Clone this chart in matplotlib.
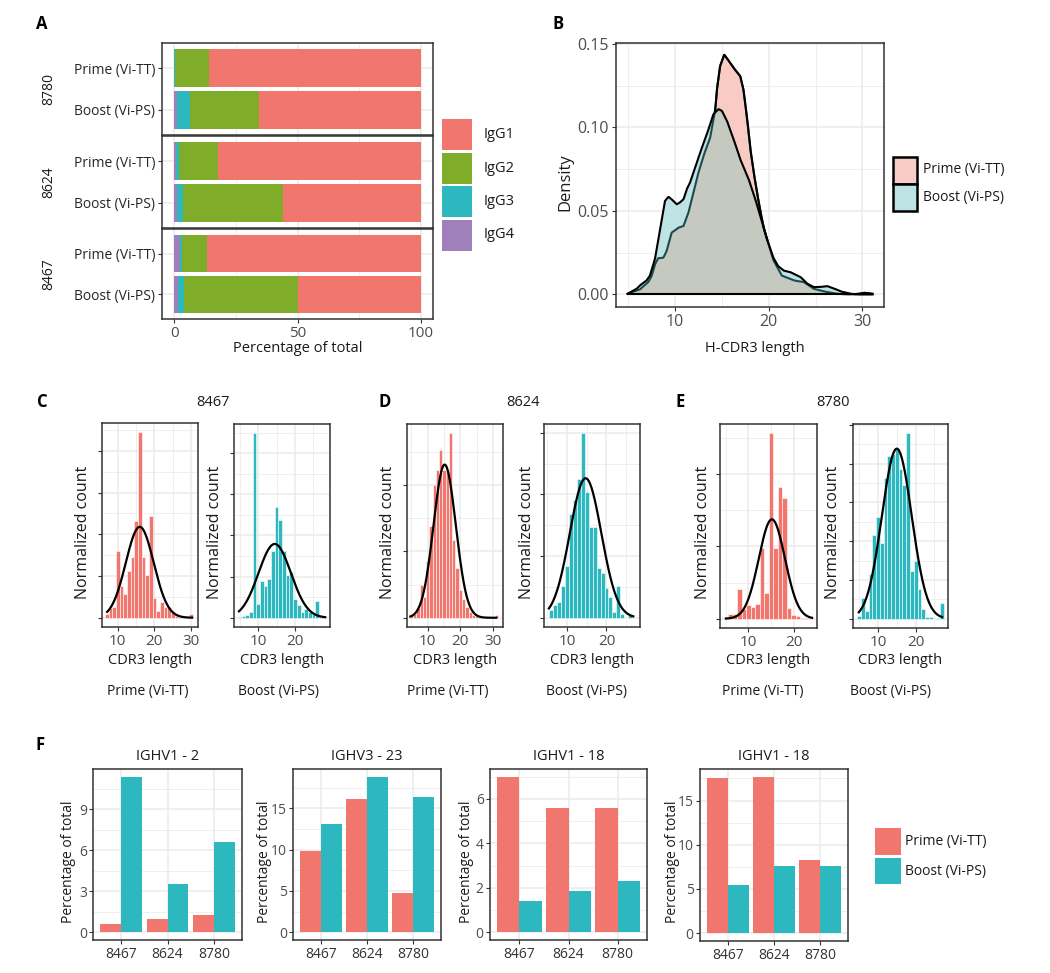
import numpy as np
import matplotlib
matplotlib.use('Agg')
import matplotlib.pyplot as plt
from matplotlib.patches import Rectangle
from matplotlib.ticker import FixedLocator, MultipleLocator

plt.rcParams['font.family'] = ['Open Sans', 'DejaVu Sans']
NARROW = ['Liberation Sans Narrow', 'Open Sans', 'DejaVu Sans']

# ------------------------------------------------------------------ data
# Panel A: isotype composition (% of total), order: 8780 P/B, 8624 P/B, 8467 P/B
a_donors = ['8780', '8624', '8467']
a_times = ['Prime (Vi-TT)', 'Boost (Vi-PS)']
a_isotypes = ['IgG1', 'IgG2', 'IgG3', 'IgG4']
a_IgG1 = [86.1, 65.8, 82.1, 55.7, 86.8, 49.9]
a_IgG2 = [13.6, 28.0, 15.9, 40.7, 10.2, 46.3]
a_IgG3 = [0.3, 5.2, 1.5, 2.5, 0.8, 2.3]
a_IgG4 = [0.0, 1.0, 0.5, 1.1, 2.2, 1.5]

# Panel B: density curves of H-CDR3 length
b_prime_x = [4.93, 6.25, 7.14, 7.5, 7.86, 8.2, 8.75, 9.1, 9.64, 10.36, 10.9, 11.43, 11.96,
             12.5, 13.04, 13.75, 14.3, 14.47, 14.8, 15.25, 15.6, 16.25, 16.96, 17.3, 17.7,
             18.04, 18.4, 18.75, 19.1, 19.46, 19.82, 20.5, 21.4, 22.7, 23.75, 24.8, 25.9,
             27.3, 28.5, 29.5, 30.2, 31.07]
b_prime_y = [0.0004, 0.003, 0.0074, 0.011, 0.018, 0.0217, 0.022, 0.026, 0.037, 0.040, 0.041,
             0.049, 0.061, 0.073, 0.083, 0.094, 0.111, 0.1227, 0.1366, 0.1436, 0.141, 0.1357,
             0.1307, 0.1227, 0.105, 0.087, 0.073, 0.061, 0.050, 0.040, 0.033, 0.0205, 0.0113,
             0.0084, 0.0074, 0.0034, 0.0018, 0.0004, 0.0, 0.0003, 0.001, 0.0004]
b_boost_x = [4.93, 5.9, 6.25, 6.96, 7.32, 7.86, 8.4, 8.93, 9.3, 9.64, 10.18, 10.5, 10.9,
             11.25, 11.6, 11.96, 12.68, 13.4, 14.1, 14.64, 15.0, 15.54, 16.25, 16.96, 17.86,
             18.57, 19.3, 19.82, 20.5, 21.0, 21.6, 22.3, 23.4, 24.1, 24.8, 25.5, 26.25, 27.0,
             27.7, 28.75, 29.5, 31.07]
b_boost_y = [0.0004, 0.0034, 0.0054, 0.0084, 0.0113, 0.0213, 0.039, 0.056, 0.0585, 0.057,
             0.054, 0.055, 0.057, 0.063, 0.067, 0.073, 0.085, 0.096, 0.108, 0.111, 0.110,
             0.104, 0.093, 0.081, 0.069, 0.057, 0.043, 0.033, 0.022, 0.017, 0.0143, 0.0134,
             0.0104, 0.0065, 0.0044, 0.0045, 0.005, 0.0035, 0.0018, 0.0004, 0.0, 0.0]

# Panels C-E: normalized CDR3 length histograms (bin centre = length)
c_prime_x = list(range(7, 31))
c_prime_h = [0.02, 0.05, 0.056, 0.36, 0.17, 0.13, 0.25, 0.33, 0.52, 1.0, 0.33, 0.23, 0.55,
             0.105, 0.036, 0.086, 0.06, 0.06, 0.032, 0.01, 0.005, 0.0, 0.0, 0.02]
c_boost_x = list(range(5, 28))
c_boost_h = [0.004, 0.007, 0.015, 0.032, 1.0, 0.077, 0.2, 0.17, 0.21, 0.36, 0.6, 0.53, 0.36,
             0.23, 0.25, 0.1, 0.07, 0.03, 0.05, 0.03, 0.02, 0.09, 0.004]
d_prime_x = list(range(5, 32))
d_prime_h = [0.013, 0.02, 0.055, 0.18, 0.11, 0.31, 0.5, 0.72, 0.8, 0.91, 0.8, 0.8, 1.0, 0.42,
             0.27, 0.15, 0.1, 0.058, 0.03, 0.015, 0.01, 0.005, 0.0, 0.0, 0.0, 0.0, 0.015]
d_boost_x = list(range(6, 27))
d_boost_h = [0.04, 0.067, 0.085, 0.17, 0.28, 0.56, 0.64, 0.75, 1.0, 0.68, 0.49, 0.49, 0.27,
             0.24, 0.16, 0.11, 0.03, 0.17, 0.02, 0.0, 0.015]
e_prime_x = list(range(5, 25))
e_prime_h = [0.005, 0.027, 0.023, 0.16, 0.05, 0.072, 0.065, 0.077, 0.38, 0.14, 1.0, 0.38,
             0.71, 0.65, 0.06, 0.02, 0.014, 0.005, 0.004, 0.004]
e_boost_x = list(range(5, 28))
e_boost_h = [0.014, 0.11, 0.04, 0.24, 0.45, 0.55, 0.41, 0.76, 0.88, 0.89, 0.92, 0.81, 0.72,
             1.0, 0.26, 0.31, 0.16, 0.054, 0.01, 0.01, 0.0, 0.005, 0.083]
# fitted normal curves: mean, sd, peak, x-from, x-to
c_prime_fit = [16.0, 3.8, 0.49, 7.1, 30.3]
c_boost_fit = [14.5, 4.4, 0.40, 4.8, 28.2]
d_prime_fit = [15.2, 3.4, 0.83, 4.7, 31.0]
d_boost_fit = [14.7, 4.0, 0.756, 5.4, 26.8]
e_prime_fit = [15.2, 2.9, 0.536, 5.0, 24.1]
e_boost_fit = [15.0, 3.95, 0.917, 4.9, 27.0]
hist_titles = ['8467', '8624', '8780']

# Panel F: IGHV usage (% of total)
f_donors = ['8467', '8624', '8780']
f_genes = ['IGHV1 - 2', 'IGHV3 - 23', 'IGHV1 - 18', 'IGHV1 - 18']
f1_prime = [0.58, 0.94, 1.24]
f1_boost = [11.39, 3.51, 6.63]
f2_prime = [9.79, 16.1, 4.79]
f2_boost = [13.05, 18.8, 16.3]
f3_prime = [7.0, 5.58, 5.6]
f3_boost = [1.41, 1.875, 2.31]
f4_prime = [17.53, 17.68, 8.25]
f4_boost = [5.43, 7.61, 7.61]
f_yticks = [[0, 3, 6, 9], [0, 5, 10, 15], [0, 2, 4, 6], [0, 5, 10, 15]]

# ------------------------------------------------------------------ style
RED = '#F0766E'
TEAL = '#2DB7BE'
GREEN = '#7FAC29'
PURPLE = '#9F80BA'
GRID = '#EBEBEB'
TICKC = '#4D4D4D'

W, H = 1050, 973
fig = plt.figure(figsize=(W / 100, H / 100), dpi=100)


def add_ax(l, t, r, b):
    return fig.add_axes([l / W, 1 - b / H, (r - l) / W, (b - t) / H])


def ftext(x, y, s, **kw):
    kw.setdefault('ha', 'center')
    kw.setdefault('va', 'center')
    kw.setdefault('color', '#1A1A1A')
    fig.text(x / W, 1 - y / H, s, **kw)


def frect(l, t, r, b, fc, ec='none', lw=0):
    fig.add_artist(Rectangle((l / W, 1 - b / H), (r - l) / W, (b - t) / H,
                             transform=fig.transFigure, facecolor=fc, edgecolor=ec, lw=lw))


def style(ax, ts=9.5):
    ax.set_facecolor('white')
    for s in ax.spines.values():
        s.set_color('#333333')
        s.set_linewidth(1.1)
    ax.tick_params(which='major', length=3, color='#333333', labelcolor=TICKC,
                   labelsize=ts, width=0.8, pad=2)
    ax.tick_params(which='minor', length=0)
    ax.grid(True, which='major', color=GRID, lw=1.1)
    ax.grid(True, which='minor', color=GRID, lw=0.55)
    ax.set_axisbelow(True)


def narrow_ticks(ax):
    for lab in ax.get_xticklabels() + ax.get_yticklabels():
        lab.set_family(NARROW)


# ------------------------------------------------------------------ Panel A
ftext(42, 24, 'A', fontsize=12, fontweight='bold', color='black')
a_values = {'IgG1': a_IgG1, 'IgG2': a_IgG2, 'IgG3': a_IgG3, 'IgG4': a_IgG4}
a_colors = {'IgG1': RED, 'IgG2': GREEN, 'IgG3': TEAL, 'IgG4': PURPLE}
facet_px = [(43, 135), (136, 228), (229, 319)]
for d, (top, bot) in enumerate(facet_px):
    ax = add_ax(162, top, 433, bot)
    style(ax)
    ypos = np.array([1, 0])
    left = np.zeros(2)
    for iso in ['IgG4', 'IgG3', 'IgG2', 'IgG1']:
        v = np.array(a_values[iso][2 * d:2 * d + 2])
        ax.barh(ypos, v, left=left, height=0.9, color=a_colors[iso], lw=0)
        left += v
    ax.set_xlim(-5, 105)
    ax.set_ylim(-0.6, 1.6)
    ax.set_yticks(ypos)
    ax.set_yticklabels(a_times, fontsize=10, color='#262626')
    ax.xaxis.set_major_locator(FixedLocator([0, 50, 100]))
    ax.xaxis.set_minor_locator(FixedLocator([25, 75]))
    ax.tick_params(axis='x', labelsize=11)
    if d < 2:
        ax.tick_params(axis='x', which='both', labelbottom=False, length=0)
    else:
        for lab in ax.get_xticklabels():
            lab.set_family(NARROW)
    ftext(49, (top + bot) / 2, a_donors[d], rotation=90, fontsize=10)
ftext(298, 349, 'Percentage of total', fontsize=10.5)

# legend A
for i, iso in enumerate(a_isotypes):
    t = 119 + i * 33.5
    frect(442, t, 472, t + 31, a_colors[iso])
    ftext(484, t + 15.5, iso, ha='left', fontsize=10.5)

# ------------------------------------------------------------------ Panel B
ftext(558, 24, 'B', fontsize=12, fontweight='bold', color='black')
ax = add_ax(616, 43, 884, 307)
style(ax, ts=11.5)
xg = np.linspace(min(b_prime_x[0], b_boost_x[0]), max(b_prime_x[-1], b_boost_x[-1]), 800)
pg = np.interp(xg, b_prime_x, b_prime_y)
bg = np.interp(xg, b_boost_x, b_boost_y)
ax.fill_between(xg, 0, pg, color='#F8CBC5', lw=0)
ax.fill_between(xg, 0, bg, color='#BEE3E4', lw=0)
ax.fill_between(xg, 0, np.minimum(pg, bg), color='#C6C9C0', lw=0)
ax.plot(xg, pg, color='#1E4A4C', lw=1.5)
ax.plot(xg, np.where(pg >= bg, pg, np.nan), color='black', lw=1.5)
ax.plot(xg, bg, color='black', lw=1.5)
ax.plot([xg[0], xg[-1]], [0, 0], color='black', lw=1.5)
ax.set_xlim(3.7, 32.3)
ax.set_ylim(-0.0075, 0.1506)
ax.xaxis.set_major_locator(FixedLocator([10, 20, 30]))
ax.xaxis.set_minor_locator(FixedLocator([5, 15, 25]))
ax.yaxis.set_major_locator(FixedLocator([0, 0.05, 0.10, 0.15]))
ax.yaxis.set_minor_locator(FixedLocator([0.025, 0.075, 0.125]))
ax.set_yticklabels(['0.00', '0.05', '0.10', '0.15'])
narrow_ticks(ax)
ftext(565, 182, 'Density', rotation=90, fontsize=12)
ftext(755, 349, 'H-CDR3 length', fontsize=10.5)
frect(893, 157, 917, 184, '#F8CBC5', ec='black', lw=1.8)
frect(893, 184, 917, 211, '#BEE3E4', ec='black', lw=1.8)
ftext(923, 170, 'Prime (Vi-TT)', ha='left', fontsize=10)
ftext(923, 197, 'Boost (Vi-PS)', ha='left', fontsize=10)

# ------------------------------------------------------------------ Panels C-E
hist_specs = [
    # (box, x, h, fit, colour, xlim, ystep, ylabel_x, bottom label x, bottom label)
    ((102, 423, 198, 627), c_prime_x, c_prime_h, c_prime_fit, RED, (5.7, 31.9), 0.225, 83, 148, 'Prime (Vi-TT)'),
    ((234, 424, 330, 627), c_boost_x, c_boost_h, c_boost_fit, TEAL, (3.45, 29.5), 0.223, 215, 278, 'Boost (Vi-PS)'),
    ((407, 424, 503, 627), d_prime_x, d_prime_h, d_prime_fit, RED, (3.67, 33.06), 0.36, 388, 448, 'Prime (Vi-TT)'),
    ((544, 424, 640, 627), d_boost_x, d_boost_h, d_boost_fit, TEAL, (4.15, 28.5), 0.334, 527, 587, 'Boost (Vi-PS)'),
    ((720, 424, 817, 628), e_prime_x, e_prime_h, e_prime_fit, RED, (3.7, 25.2), 0.39, 703, 763, 'Prime (Vi-TT)'),
    ((853, 424, 948, 628), e_boost_x, e_boost_h, e_boost_fit, TEAL, (3.36, 28.6), 0.209, 833, 891, 'Boost (Vi-PS)'),
]
for box, hx, hh, fit, col, xl, ystep, ylx, blx, blab in hist_specs:
    ax = add_ax(*box)
    style(ax, ts=11)
    ax.bar(hx, hh, width=1.0, color=col, edgecolor='white', lw=0.4)
    m, sd, pk, lo, hi = fit
    xs = np.linspace(lo, hi, 300)
    ax.plot(xs, pk * np.exp(-0.5 * ((xs - m) / sd) ** 2), color='black', lw=1.6)
    ax.set_xlim(*xl)
    ax.set_ylim(-0.05, 1.05)
    ax.xaxis.set_major_locator(FixedLocator([10, 20, 30]))
    ax.xaxis.set_minor_locator(FixedLocator([5, 15, 25]))
    ax.yaxis.set_major_locator(MultipleLocator(ystep))
    ax.yaxis.set_minor_locator(MultipleLocator(ystep / 2))
    ax.set_yticklabels([])
    narrow_ticks(ax)
    cx = (box[0] + box[2]) / 2
    ftext(ylx, 532, 'Normalized count', rotation=90, fontsize=11.5)
    ftext(cx, 660, 'CDR3 length', fontsize=10.5)
    ftext(blx, 691, blab, fontsize=10)

ftext(42, 402, 'C', fontsize=12, fontweight='bold', color='black')
ftext(385, 402, 'D', fontsize=12, fontweight='bold', color='black')
ftext(680, 402, 'E', fontsize=12, fontweight='bold', color='black')
ftext(213, 402, hist_titles[0], fontsize=10.5)
ftext(523, 402, hist_titles[1], fontsize=10.5)
ftext(833, 402, hist_titles[2], fontsize=10.5)

# ------------------------------------------------------------------ Panel F
ftext(40, 745, 'F', fontsize=12, fontweight='bold', color='black')
f_boxes = [(93, 769, 242, 940), (293, 769, 441, 940), (490, 769, 647, 940), (700, 769, 848, 941)]
f_prime_all = [f1_prime, f2_prime, f3_prime, f4_prime]
f_boost_all = [f1_boost, f2_boost, f3_boost, f4_boost]
f_ylab_x = [68, 265, 466, 672]
for i, box in enumerate(f_boxes):
    ax = add_ax(*box)
    style(ax, ts=10)
    ax.tick_params(axis='y', pad=1.5)
    pos = np.arange(1, 4)
    ax.bar(pos - 0.225, f_prime_all[i], width=0.45, color=RED, lw=0)
    ax.bar(pos + 0.225, f_boost_all[i], width=0.45, color=TEAL, lw=0)
    mx = max(max(f_prime_all[i]), max(f_boost_all[i]))
    ax.set_ylim(-0.05 * mx, 1.05 * mx)
    ax.set_xlim(0.4, 3.6)
    ax.set_xticks(pos)
    ax.set_xticklabels(f_donors, color='#333333')
    yt = f_yticks[i]
    ax.yaxis.set_major_locator(FixedLocator(yt))
    step = yt[1] - yt[0]
    ax.yaxis.set_minor_locator(FixedLocator([v + step / 2 for v in yt]))
    ftext((box[0] + box[2]) / 2, 757, f_genes[i], fontsize=10.5)
    ftext(f_ylab_x[i], 862, 'Percentage of total', rotation=90, fontsize=10)

frect(875, 828, 901, 855, RED)
frect(875, 858, 901, 884, TEAL)
ftext(905, 842, 'Prime (Vi-TT)', ha='left', fontsize=10)
ftext(905, 871, 'Boost (Vi-PS)', ha='left', fontsize=10)

fig.savefig('out.png', dpi=100, facecolor='white')
